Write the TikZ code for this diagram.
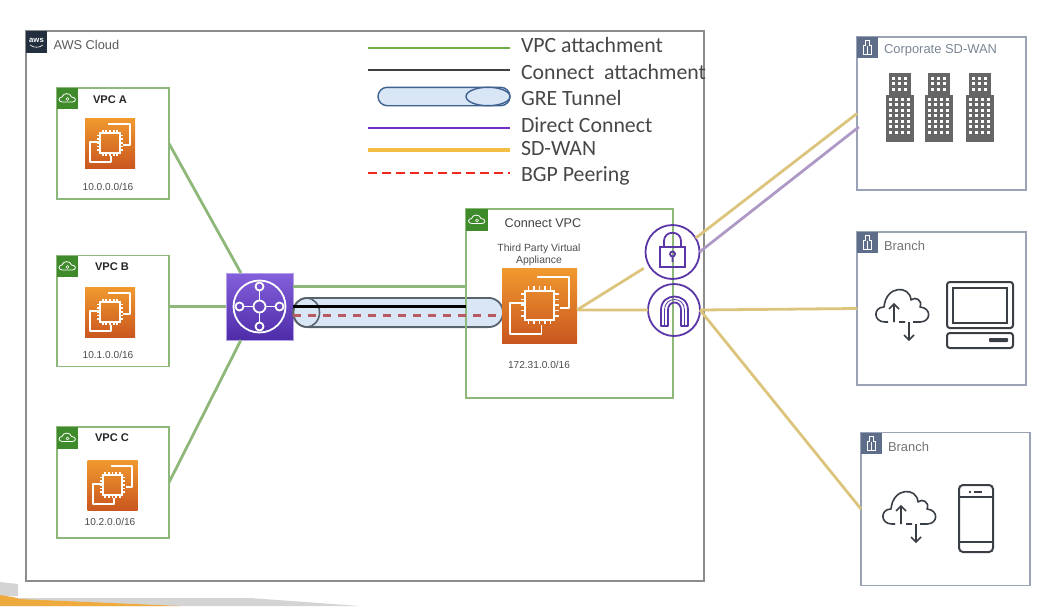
\documentclass[tikz,border=0pt]{standalone}
\usepackage{fontspec}
\setmainfont{Liberation Sans}
\newfontfamily\legendfont{Carlito}
\usepackage{xcolor}
\usetikzlibrary{arrows.meta, positioning, shapes.geometric, calc}
\definecolor{vpcgreen}{HTML}{8DB87A}
\definecolor{badgegreen}{HTML}{3F8A2A}
\definecolor{sdyellow}{HTML}{DCC47C}
\definecolor{dxpurple}{HTML}{AE98C6}
\definecolor{iconpurple}{HTML}{5B36A6}
\definecolor{tunfill}{HTML}{D8E6F6}
\definecolor{tunedge}{HTML}{59636E}
\definecolor{bgpred}{HTML}{B85A62}
\definecolor{siteedge}{HTML}{9AA3B5}
\definecolor{sitegrey}{HTML}{5E6E8A}
\definecolor{textgrey}{HTML}{7A8594}
\definecolor{bldgrey}{HTML}{666666}
\definecolor{icondark}{HTML}{3A3F46}
\definecolor{ec2top}{HTML}{F0992F}
\definecolor{ec2bot}{HTML}{C9561F}
\definecolor{tgwtop}{HTML}{8460DC}
\definecolor{tgwbot}{HTML}{4E2BA8}
\definecolor{legblue}{HTML}{3F6391}
\definecolor{leggreen}{HTML}{70AD47}
\definecolor{legpurple}{HTML}{7030C0}
\definecolor{legyellow}{HTML}{F4BE45}
\definecolor{legred}{HTML}{F0281E}
\definecolor{slideorange}{HTML}{EEAA3C}
\definecolor{awsnavy}{HTML}{232F3E}

\begin{document}
\begin{tikzpicture}[
    x=0.25mm, y=-0.25mm,
    every node/.style={inner sep=0pt, outer sep=0pt},
    cloudbox/.style={draw=black!45, line width=0.55mm, minimum width=169.5mm, minimum height=137.5mm},
    vpcbox/.style={draw=vpcgreen, line width=0.45mm, minimum width=28mm, minimum height=27.75mm},
    sitebox/.style={draw=siteedge, line width=0.45mm, minimum width=42.25mm, minimum height=38.25mm},
    badge/.style={fill=badgegreen, minimum size=5.4mm},
    sitebadge/.style={fill=sitegrey, minimum size=5.4mm},
    ec2/.style={top color=ec2top, bottom color=ec2bot, minimum size=12.5mm},
    vpctitle/.style={font=\fontsize{7.9}{9}\selectfont\bfseries, text=black!85},
    cidr/.style={font=\fontsize{7.2}{9}\selectfont, text=black!70},
    sitetitle/.style={font=\fontsize{9.2}{11}\selectfont, text=textgrey, anchor=west},
    lgd/.style={font=\legendfont\fontsize{15.5}{18}\selectfont, text=black!72, anchor=west},
    vpcline/.style={draw=vpcgreen, line width=0.7mm},
    sdline/.style={draw=sdyellow, line width=0.7mm},
    iconline/.style={draw=iconpurple, line width=0.45mm},
    pics/ec2chip/.style={code={
        \draw[white, line width=0.45mm, line join=round]
          (-2.3,-29) -- (29.7,-29) -- (29.7,1.7) -- (20,1.7)
          (-14.7,-2.7) -- (-29.7,-2.7) -- (-29.7,28.3) -- (2,28.3) -- (2,19);
        \draw[white, line width=0.5mm] (-14.5,-15.5) rectangle (14.5,13.5);
        \foreach \k in {-2,...,2} {
          \draw[white, line width=0.45mm] (\k*5.5,-20) -- (\k*5.5,-15.5) (\k*5.5,13.5) -- (\k*5.5,18);
          \draw[white, line width=0.45mm] (-19,\k*5.5-1) -- (-14.5,\k*5.5-1) (14.5,\k*5.5-1) -- (19,\k*5.5-1);
        }
    }},
    pics/vpccloud/.style={code={
        \draw[white, line width=0.2mm] (-5,3.5) .. controls (-10,3.5) and (-9,-1.5) .. (-5.5,-1.5)
          .. controls (-4.5,-6) and (3,-6) .. (4,-1.5) .. controls (9,-1.5) and (9,3.5) .. (5,3.5) -- cycle;
        \draw[white, line width=0.15mm] (0,0.5) circle[radius=1.5];
    }},
    pics/siteglyph/.style={code={
        \draw[white, line width=0.2mm] (-4,7) -- (-4,-2) -- (-2,-2) -- (-2,-7) -- (2,-7) -- (2,-2) -- (4,-2) -- (4,7) -- cycle;
        \draw[white, line width=0.15mm] (0,-2) -- (0,7);
    }},
    pics/tower/.style={code={
        \fill[bldgrey] (3,0) rectangle (25,22);
        \fill[bldgrey] (0,22) rectangle (28,69);
        \foreach \cx in {8,14,20} \foreach \cy in {5,10.5,16}
          \fill[white] (\cx-1.5,\cy-1.5) rectangle (\cx+1.5,\cy+1.5);
        \foreach \cx in {5,11,17,23} \foreach \cy in {26,31.5,37,42.5,48,53.5,59}
          \fill[white] (\cx-1.5,\cy-1.5) rectangle (\cx+1.5,\cy+1.5);
    }},
    pics/updown/.style={code={
        \draw[icondark, line width=0.4mm, line join=round] (-14,0) -- (-17,0)
          .. controls (-29,0) and (-29,-15) .. (-18,-15)
          .. controls (-16,-37) and (8,-37) .. (9,-22)
          .. controls (13,-26) and (21,-22) .. (18,-15)
          .. controls (30,-14) and (29,0) .. (18,0) -- (11,0)
          (-3,0) -- (3,0);
        \draw[icondark, line width=0.4mm] (-8,0) -- (-8,-18) (-13,-13) -- (-8,-18) -- (-3,-13);
        \draw[icondark, line width=0.4mm] (7,0) -- (7,18) (2,13) -- (7,18) -- (12,13);
    }}]
  \useasboundingbox (0,0) rectangle (1054,606);

  % ---- slide corner ----
  \fill[black!17] (0,582) -- (18,584) -- (18,596) -- (0,596) -- cycle;
  \fill[slideorange] (0,595) -- (18,598) -- (18,606) -- (0,606) -- cycle;
  \fill[black!17] (18,598) -- (250,598) -- (360,606) -- (18,606) -- cycle;
  \fill[slideorange] (18,599) -- (180,606) -- (18,606) -- cycle;

  % ---- cloud frame ----
  \node[cloudbox] (cloud) at (365,306) {};
  \node[fill=awsnavy, minimum width=5.4mm, minimum height=5.5mm] (awsbadge) at (36.5,42) {};
  \node[font=\fontsize{5.5}{5.5}\selectfont\bfseries, text=white] (awstext) at (36.5,40) {aws};
  \draw[white, line width=0.15mm] (30,45) .. controls (34,48) and (39,48) .. (43,45);
  \node[font=\fontsize{9.1}{11}\selectfont, text=black!65, anchor=west] (awstitle) at (53.5,45) {AWS Cloud};

  % ---- legend ----
  \coordinate (la1) at (368,48);   \coordinate (lb1) at (510,48);
  \coordinate (la2) at (368,70);   \coordinate (lb2) at (510,70);
  \coordinate (la4) at (368,128);  \coordinate (lb4) at (510,128);
  \coordinate (la5) at (368,150);  \coordinate (lb5) at (510,150);
  \coordinate (la6) at (368,173);  \coordinate (lb6) at (510,173);
  \draw[draw=leggreen, line width=0.6mm] (la1) -- (lb1);
  \draw[draw=black!75, line width=0.6mm] (la2) -- (lb2);
  \node[draw=legblue, fill=tunfill, line width=0.35mm, rounded corners=2.3mm,
        minimum width=33mm, minimum height=4.6mm] (legtun) at (444,96.5) {};
  \node[draw=legblue, ellipse, fill=tunfill, line width=0.35mm, minimum width=11mm, minimum height=4.6mm]
        (legend) at (488,96.5) {};
  \draw[draw=legpurple, line width=0.6mm] (la4) -- (lb4);
  \draw[draw=legyellow, line width=0.8mm] (la5) -- (lb5);
  \draw[draw=legred, line width=0.7mm, dash pattern=on 2.3mm off 1.2mm] (la6) -- (lb6);
  \node[lgd] (lvpc) at (521,45)  {VPC attachment};
  \node[lgd] (lcon) at (521,72)  {Connect\ \ attachment};
  \node[lgd] (lgre) at (521,98)  {GRE Tunnel};
  \node[lgd] (ldx)  at (521,125) {Direct Connect};
  \node[lgd] (lsd)  at (521,149) {SD-WAN};
  \node[lgd] (lbgp) at (521,176) {BGP Peering};

  % ---- VPC A, B, C ----
  \node[vpcbox] (vpca) at (113,143.5) {};
  \node[badge] (bada) at (67.5,98.5) {};
  \pic at (bada) {vpccloud};
  \node[vpctitle] (ta) at (110,100) {VPC A};
  \node[ec2] (ec2a) at (110,143.5) {};
  \pic[scale=0.667] at (ec2a) {ec2chip};
  \node[cidr] (ca) at (108,187) {10.0.0.0/16};

  \node[vpcbox] (vpcb) at (113,311) {};
  \node[badge] (badb) at (67.5,266.5) {};
  \pic at (badb) {vpccloud};
  \node[vpctitle] (tb) at (112,267) {VPC B};
  \node[ec2] (ec2b) at (110,312.5) {};
  \pic[scale=0.667] at (ec2b) {ec2chip};
  \node[cidr] (cb) at (108,355) {10.1.0.0/16};

  \node[vpcbox] (vpcc) at (113,482.5) {};
  \node[badge] (badc) at (67.5,438) {};
  \pic at (badc) {vpccloud};
  \node[vpctitle] (tc) at (112,438) {VPC C};
  \node[ec2] (ec2c) at (112.5,485.5) {};
  \pic[scale=0.667] at (ec2c) {ec2chip};
  \node[cidr] (cc) at (110,522) {10.2.0.0/16};

  % ---- transit gateway ----
  \node[top color=tgwtop, bottom color=tgwbot, draw=tgwtop!60,
        line width=0.2mm, minimum size=16.75mm] (tgw) at (259.5,306.5) {};
  \draw[white, line width=0.45mm] (tgw) circle[radius=26];
  \draw[white, line width=0.45mm] (tgw) circle[radius=6];
  \foreach \dx/\dy in {0/-20,0/20,-20/0,20/0}
    \draw[white, line width=0.45mm] ($(tgw)+(\dx,\dy)$) circle[radius=4];
  \draw[white, line width=0.45mm] (259.5,290.5) -- (259.5,300.5) (259.5,312.5) -- (259.5,322.5)
     (243.5,306.5) -- (253.5,306.5) (265.5,306.5) -- (275.5,306.5);

  % ---- GRE tunnel, under the VPC frame ----
  \node[draw=tunedge, fill=tunfill, line width=0.45mm, rounded corners=3.6mm,
        minimum width=52.5mm, minimum height=7.3mm] (tun) at (398,312.5) {};
  \node[draw=tunedge, ellipse, line width=0.4mm, minimum width=6.5mm, minimum height=7.3mm] (tunend) at (306.5,312.5) {};

  % ---- Connect VPC ----
  \node[vpcbox, minimum width=51.75mm, minimum height=47.25mm] (cvpc) at (569.5,303.5) {};
  \node[badge] (badv) at (477,220) {};
  \pic at (badv) {vpccloud};
  \node[font=\fontsize{9}{11}\selectfont, text=black!75] (tv) at (543,223) {Connect VPC};
  \node[font=\fontsize{7.4}{8.2}\selectfont, text=black!70, align=center] (tpa) at (539,255) {Third Party Virtual\\Appliance};
  \node[ec2, minimum size=18.75mm] (appl) at (539.5,306) {};
  \pic at (appl) {ec2chip};
  \node[cidr] (cv) at (539,365) {172.31.0.0/16};

  % ---- gateways ----
  \node[circle, iconline, minimum size=13.5mm] (vpn) at (672.5,252) {};
  \draw[iconline] (660,247) rectangle (685,267);
  \draw[iconline] (664,247) -- (664,241) .. controls (664,230) and (681,230) .. (681,241) -- (681,247);
  \draw[iconline] (672.5,254) circle[radius=2.5] (672.5,256.5) -- (672.5,262);
  \node[circle, iconline, minimum size=13mm] (igw) at (674,310) {};
  \draw[iconline, line join=round] (661,326) -- (661,310) .. controls (661,292) and (688,292) .. (688,310) -- (688,326)
     -- (681,326) -- (681,310) .. controls (681,300) and (668,300) .. (668,310) -- (668,326) -- cycle;
  \draw[draw=iconpurple, line width=0.2mm] (664.5,326) -- (664.5,310) .. controls (664.5,296) and (684.5,296) .. (684.5,310) -- (684.5,326);

  % ---- sites ----
  \node[sitebox] (corp) at (941.5,113.5) {};
  \node[sitebadge] (bad1) at (867.5,47.5) {};
  \pic at (bad1) {siteglyph};
  \node[sitetitle] (t1) at (884,50.5) {Corporate SD-WAN};
  \pic at (885.5,73) {tower};
  \pic at (924.5,73) {tower};
  \pic at (965.5,73) {tower};

  \node[sitebox] (brone) at (941.5,308.5) {};
  \node[sitebadge] (bad2) at (867.5,242.5) {};
  \pic at (bad2) {siteglyph};
  \node[sitetitle, text=black!55] (t2) at (884,245.5) {Branch};
  \pic at (902,322) {updown};
  \node[draw=icondark, line width=0.5mm, rounded corners=0.7mm, minimum width=16.5mm, minimum height=11.5mm] (mon) at (980,305) {};
  \node[draw=icondark, line width=0.45mm, minimum width=13.5mm, minimum height=8.75mm] (scr) at (980,305.5) {};
  \node[draw=icondark, line width=0.5mm, rounded corners=0.7mm, minimum width=16.5mm, minimum height=3.75mm] (kbd) at (980,340.5) {};
  \node[fill=icondark, rounded corners=0.2mm, minimum width=4.75mm, minimum height=1mm] (slot) at (998.5,340) {};

  \node[sitebox] (brtwo) at (945.5,509) {};
  \node[sitebadge] (bad3) at (871.5,443.5) {};
  \pic at (bad3) {siteglyph};
  \node[sitetitle, text=black!55] (t3) at (888,447) {Branch};
  \pic at (909,524) {updown};
  \node[draw=icondark, line width=0.5mm, rounded corners=1mm, minimum width=8.5mm, minimum height=16.75mm] (phone) at (976,518.5) {};
  \draw[icondark, line width=0.4mm] (phone.west |- 0,497) -- (phone.east |- 0,497) (phone.west |- 0,542) -- (phone.east |- 0,542);
  \fill[icondark] (970,492) circle[radius=1.4];
  \draw[icondark, line width=0.4mm] (974,492) -- (982,492);

  % ---- attachments ----
  \draw[vpcline] (vpca.east) -- (tgw.119);
  \draw[vpcline] (vpcb.east |- tgw) -- (tgw.west);
  \draw[vpcline] (vpcc.east) -- (tgw.241);
  \draw[vpcline] (tgw.31.5) -- (cvpc.west |- tgw.31.5);
  \draw[black, line width=0.7mm] (tgw.east) -- (cvpc.west |- tgw.east);
  \draw[bgpred, line width=0.7mm, dash pattern=on 2mm off 1.75mm] (tgw.-15) -- (appl.west |- tgw.-15);

  % ---- uplinks, routed past the gateways ----
  \draw[sdline, shorten >=1.5mm] (appl.-6) -- (vpn.209);
  \draw[sdline] (appl.-6) -- (igw.west);
  \draw[sdline] (vpn.31) -- (corp.west);
  \draw[draw=dxpurple, line width=0.7mm, shorten >=-0.6mm] (vpn.east) -- (corp.190);
  \draw[sdline] (igw.east) -- (brone.west);
  \draw[sdline] (igw.east) -- (brtwo.west);
\end{tikzpicture}
\end{document}
